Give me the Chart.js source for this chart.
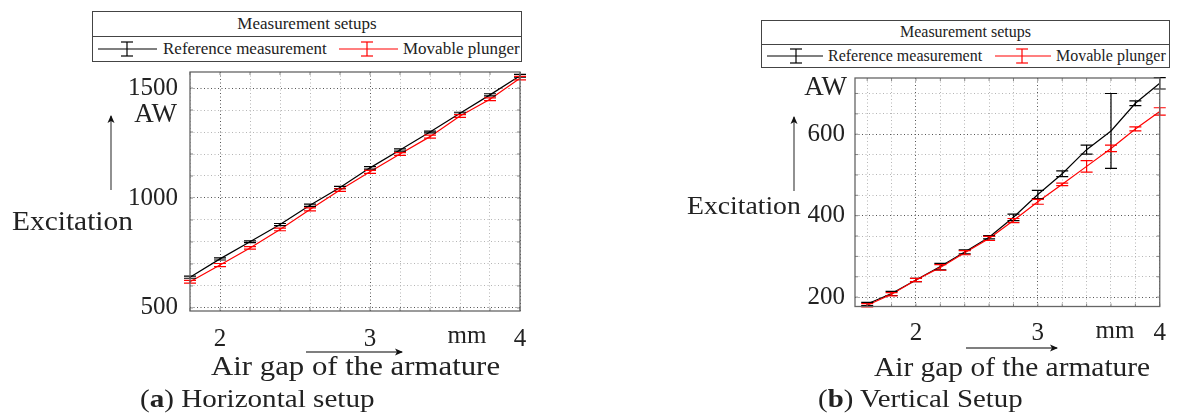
<!DOCTYPE html>
<html>
<head>
<meta charset="utf-8">
<script src="https://cdn.jsdelivr.net/npm/chart.js@4.4.1/dist/chart.umd.min.js"></script>
<style>
  html,body{margin:0;padding:0;}
  body{width:1178px;height:419px;background:#fff;position:relative;overflow:hidden;font-family:"Liberation Serif",serif;color:#222;}
  canvas{position:absolute;top:0;}
  .t{position:absolute;white-space:nowrap;line-height:1;transform-origin:0 0;}
  .box{position:absolute;border:1px solid #444;box-sizing:border-box;background:#fff;}
  .hr{position:absolute;height:1px;background:#444;}
  svg{position:absolute;left:0;top:0;overflow:visible;}
</style>
</head>
<body>
<canvas id="cLeft" width="589" height="419" style="left:0"></canvas>
<canvas id="cRight" width="589" height="419" style="left:589px"></canvas>

<!-- Left legend -->
<div class="box" style="left:92px;top:11px;width:430px;height:51px;"></div>
<div class="hr" style="left:92px;top:36px;width:430px;"></div>
<div class="t" style="left:92px;width:430px;text-align:center;top:15px;font-size:17px;">Measurement setups</div>
<div class="t" style="left:163px;top:40px;font-size:17px;">Reference measurement</div>
<div class="t" style="left:403px;top:40px;font-size:17px;">Movable plunger</div>

<!-- Right legend -->
<div class="box" style="left:761px;top:20px;width:409px;height:48px;"></div>
<div class="hr" style="left:761px;top:44px;width:409px;"></div>
<div class="t" style="left:761px;width:409px;text-align:center;top:24px;font-size:16px;">Measurement setups</div>
<div class="t" style="left:828px;top:48px;font-size:16px;">Reference measurement</div>
<div class="t" style="left:1056px;top:48px;font-size:16px;">Movable plunger</div>

<!-- Left axis texts -->
<div class="t" style="left:12px;top:208px;font-size:27px;transform:scaleX(1.09);">Excitation</div>
<div class="t" style="left:117px;width:60px;text-align:right;top:100px;font-size:27px;">AW</div>
<div class="t" style="left:437px;width:60px;text-align:center;top:322px;font-size:25px;">mm</div>
<div class="t" style="left:211px;top:352px;font-size:27.5px;transform:scaleX(1.12);">Air gap of the armature</div>
<div class="t" style="left:140px;top:386px;font-size:26px;transform:scaleX(1.12);">(<b>a</b>) Horizontal setup</div>

<!-- Right axis texts -->
<div class="t" style="left:687px;top:193px;font-size:26px;transform:scaleX(1.065);">Excitation</div>
<div class="t" style="left:787px;width:60px;text-align:right;top:73px;font-size:27px;">AW</div>
<div class="t" style="left:1085px;width:60px;text-align:center;top:317px;font-size:25px;">mm</div>
<div class="t" style="left:874px;top:353px;font-size:27.5px;transform:scaleX(1.07);">Air gap of the armature</div>
<div class="t" style="left:818px;top:386px;font-size:26px;transform:scaleX(1.11);">(<b>b</b>) Vertical Setup</div>

<svg width="1178" height="419">
  <defs>
    <marker id="ah" markerWidth="8" markerHeight="8" refX="7" refY="4" orient="auto" markerUnits="userSpaceOnUse">
      <path d="M0,0.5 L8,4 L0,7.5 L2,4 Z" fill="#111"/>
    </marker>
  </defs>
  <!-- arrows -->
  <line x1="111" y1="190" x2="111" y2="116" stroke="#555" stroke-width="1.3" marker-end="url(#ah)"/>
  <line x1="306" y1="352" x2="402" y2="352" stroke="#555" stroke-width="1.3" marker-end="url(#ah)"/>
  <line x1="794" y1="191" x2="794" y2="117" stroke="#555" stroke-width="1.3" marker-end="url(#ah)"/>
  <line x1="966" y1="348" x2="1057" y2="348" stroke="#555" stroke-width="1.3" marker-end="url(#ah)"/>
  <!-- legend glyphs left -->
  <g stroke="#000" stroke-width="1.2">
    <line x1="98" y1="49" x2="157" y2="49"/>
    <line x1="127" y1="42" x2="127" y2="56"/><line x1="121" y1="42" x2="133" y2="42"/><line x1="121" y1="56" x2="133" y2="56"/>
  </g>
  <g stroke="#f00" stroke-width="1.2">
    <line x1="339" y1="49" x2="398" y2="49"/>
    <line x1="367" y1="42" x2="367" y2="56"/><line x1="361" y1="42" x2="373" y2="42"/><line x1="361" y1="56" x2="373" y2="56"/>
  </g>
  <!-- legend glyphs right -->
  <g stroke="#000" stroke-width="1.2">
    <line x1="767" y1="56" x2="823" y2="56"/>
    <line x1="796" y1="49" x2="796" y2="63"/><line x1="790" y1="49" x2="802" y2="49"/><line x1="790" y1="63" x2="802" y2="63"/>
  </g>
  <g stroke="#f00" stroke-width="1.2">
    <line x1="995" y1="56" x2="1051" y2="56"/>
    <line x1="1022" y1="49" x2="1022" y2="63"/><line x1="1016" y1="49" x2="1028" y2="49"/><line x1="1016" y1="63" x2="1028" y2="63"/>
  </g>
</svg>

<script>
// ---------- Data: (a) Horizontal setup ----------
const xLeft = [1.8, 2.0, 2.2, 2.4, 2.6, 2.8, 3.0, 3.2, 3.4, 3.6, 3.8, 4.0];
const refLeft = [640, 723, 801, 879, 967, 1048, 1137, 1218, 1300, 1385, 1469, 1556];
const refLeftErr = [5, 5, 4, 5, 5, 5, 6, 5, 4, 5, 5, 6];
const plungerLeft = [619, 695, 773, 857, 948, 1036, 1119, 1200, 1279, 1373, 1449, 1545];
const plungerLeftErr = [6, 7, 6, 6, 7, 6, 7, 6, 7, 6, 6, 8];
const xGridLeft = [1.8, 2.0, 2.2, 2.4, 2.6, 2.8, 3.0, 3.2, 3.4, 3.6, 3.8, 4.0];
const yGridLeft = [500, 600, 700, 800, 900, 1000, 1100, 1200, 1300, 1400, 1500];
const yLabelsLeft = [500, 1000, 1500];

// ---------- Data: (b) Vertical setup ----------
const xRight = [1.6, 1.8, 2.0, 2.2, 2.4, 2.6, 2.8, 3.0, 3.2, 3.4, 3.6, 3.8, 4.0];
const refRight = [183, 209, 242, 275, 311, 347, 396, 452, 503, 562, 608, 676, 725];
const refRightErr = [4, 5, 4, 8, 5, 4, 8, 10, 7, 11, 92, 6, 14];
const plungerRight = [180, 207, 242, 273, 309, 344, 388, 434, 477, 521, 565, 613, 656];
const plungerRightErr = [4, 4, 4, 7, 5, 5, 5, 6, 3, 14, 8, 5, 9];
const xGridRight = [1.6, 1.8, 2.0, 2.2, 2.4, 2.6, 2.8, 3.0, 3.2, 3.4, 3.6, 3.8, 4.0];
const yGridRight = [200, 250, 300, 350, 400, 450, 500, 550, 600, 650, 700];
const yLabelsRight = [200, 400, 600];

const xLabels = [2, 3, 4];
const seriesNames = ['Reference measurement', 'Movable plunger'];

const FONT = '"Liberation Serif", serif';
const near = (a, b) => Math.abs(a - b) < 1e-6;
const isIn = (arr, v) => arr.some(a => near(a, v));

const errorBars = {
  id: 'errorBars',
  afterDatasetsDraw(chart) {
    const {ctx, scales: {x, y}} = chart;
    const list = chart.data.datasets.slice();
    list.forEach(ds => {
      ctx.save();
      ctx.strokeStyle = ds.borderColor;
      ctx.lineWidth = 1.2;
      ds.data.forEach((p, i) => {
        const e = ds.errors[i];
        const px = x.getPixelForValue(p.x);
        const y1 = y.getPixelForValue(p.y - e);
        const y2 = y.getPixelForValue(p.y + e);
        ctx.beginPath();
        ctx.moveTo(px, y1); ctx.lineTo(px, y2);
        ctx.moveTo(px - 6, y1); ctx.lineTo(px + 6, y1);
        ctx.moveTo(px - 6, y2); ctx.lineTo(px + 6, y2);
        ctx.stroke();
      });
      ctx.restore();
    });
  }
};

const frame = {
  id: 'frame',
  afterDraw(chart) {
    const {ctx, chartArea: a, scales: {x, y}} = chart;
    ctx.save();
    ctx.strokeStyle = '#666';
    ctx.lineWidth = 1.3;
    ctx.strokeRect(a.left, a.top, a.right - a.left, a.bottom - a.top);
    ctx.lineWidth = 0.8;
    ctx.beginPath();
    x.ticks.forEach(t => {
      const px = x.getPixelForValue(t.value);
      ctx.moveTo(px, a.bottom); ctx.lineTo(px, a.bottom - 3);
      ctx.moveTo(px, a.top); ctx.lineTo(px, a.top + 3);
    });
    y.ticks.forEach(t => {
      const py = y.getPixelForValue(t.value);
      ctx.moveTo(a.left, py); ctx.lineTo(a.left + 3, py);
      ctx.moveTo(a.right, py); ctx.lineTo(a.right - 3, py);
    });
    ctx.stroke();
    ctx.restore();
  }
};

function makeChart(id, cfg) {
  const mk = (xs, ys, errs, color, name, order) => ({
    label: name,
    data: xs.map((v, i) => ({x: v, y: ys[i]})),
    errors: errs,
    borderColor: color,
    backgroundColor: color,
    borderWidth: 1.2,
    pointRadius: 0,
    tension: 0,
    order: order,
    clip: false
  });
  return new Chart(document.getElementById(id), {
    type: 'line',
    data: {
      datasets: [
        mk(cfg.xs, cfg.ref, cfg.refErr, '#000000', seriesNames[0], 1),
        mk(cfg.xs, cfg.plu, cfg.pluErr, '#ff0000', seriesNames[1], 0)
      ]
    },
    options: {
      responsive: false,
      animation: false,
      devicePixelRatio: 1,
      layout: {padding: cfg.padding},
      plugins: {legend: {display: false}, tooltip: {enabled: false}},
      scales: {
        x: {
          type: 'linear',
          min: cfg.xmin, max: cfg.xmax,
          afterFit(s) { s.height = cfg.xAxisHeight; },
          afterBuildTicks(s) { s.ticks = cfg.xGrid.map(v => ({value: v})); },
          ticks: {
            autoSkip: false, maxRotation: 0, padding: cfg.xPad,
            color: '#222', font: {family: FONT, size: 25},
            callback: v => isIn(xLabels, v) ? String(Math.round(v)) : ''
          },
          grid: {
            drawTicks: false, lineWidth: 1,
            color: c => isIn(xLabels, c.tick.value) ? '#555' : '#b5b5b5'
          },
          border: {display: false, dash: [1, 2.5]}
        },
        y: {
          type: 'linear',
          min: cfg.ymin, max: cfg.ymax,
          afterFit(s) { s.width = cfg.yAxisWidth; },
          afterBuildTicks(s) { s.ticks = cfg.yGrid.map(v => ({value: v})); },
          ticks: {
            autoSkip: false, padding: cfg.yPad,
            color: '#222', font: {family: FONT, size: 25},
            callback: v => isIn(cfg.yLabels, v) ? String(v) : ''
          },
          grid: {
            drawTicks: false, lineWidth: 1,
            color: c => isIn(cfg.yLabels, c.tick.value) ? '#555' : '#b5b5b5'
          },
          border: {display: false, dash: [1, 2.5]}
        }
      }
    },
    plugins: [errorBars, frame]
  });
}

makeChart('cLeft', {
  xs: xLeft, ref: refLeft, refErr: refLeftErr, plu: plungerLeft, pluErr: plungerLeftErr,
  xGrid: xGridLeft, yGrid: yGridLeft, yLabels: yLabelsLeft,
  xmin: 1.8, xmax: 4.0, ymin: 486, ymax: 1573,
  padding: {left: 0, right: 69, top: 72, bottom: 0},
  xAxisHeight: 108, yAxisWidth: 190, xPad: 13, yPad: 12
});

makeChart('cRight', {
  xs: xRight, ref: refRight, refErr: refRightErr, plu: plungerRight, pluErr: plungerRightErr,
  xGrid: xGridRight, yGrid: yGridRight, yLabels: yLabelsRight,
  xmin: 1.5, xmax: 4.0, ymin: 177, ymax: 738,
  padding: {left: 0, right: 9, top: 78, bottom: 0},
  xAxisHeight: 112.5, yAxisWidth: 266, xPad: 12, yPad: 10
});
</script>
</body>
</html>
